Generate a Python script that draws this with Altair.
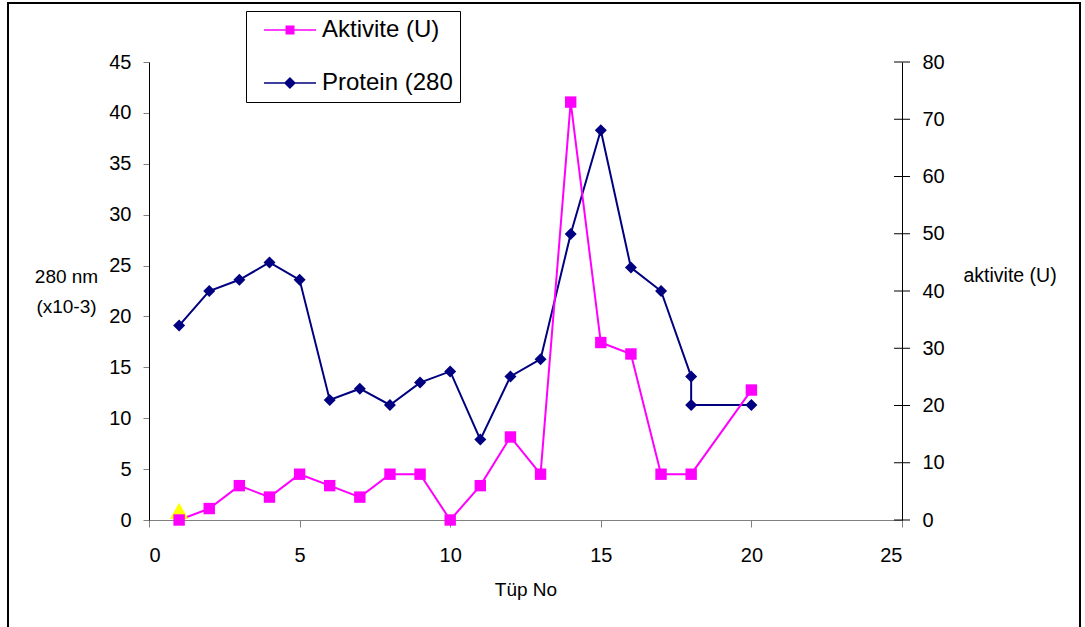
import altair as alt
import pandas as pd

FONT = "Liberation Sans"

# Protein absorbance at 280 nm (x10-3), left axis
protein_tube = [1, 2, 3, 4, 5, 6, 7, 8, 9, 10, 11, 12, 13, 14, 15, 16, 17, 18, 18, 20]
protein_abs = [19.1, 22.5, 23.6, 25.3, 23.6, 11.8, 12.9, 11.3, 13.5, 14.6,
               7.9, 14.1, 15.8, 28.1, 38.3, 24.8, 22.5, 14.1, 11.3, 11.3]

# Enzyme activity (U), right axis
activity_tube = [1, 2, 3, 4, 5, 6, 7, 8, 9, 10, 11, 12, 13, 14, 15, 16, 17, 18, 20]
activity_u = [0, 2, 6, 4, 8, 6, 4, 8, 8, 0, 6, 14.5, 8, 73, 31, 29, 8, 8, 22.7]

# Single reference point at the first tube
ref_tube = [1]
ref_u = [1.6]

# Tick values of the three axes
x_ticks = [0, 5, 10, 15, 20, 25]
left_ticks = [0, 5, 10, 15, 20, 25, 30, 35, 40, 45]
right_ticks = [0, 10, 20, 30, 40, 50, 60, 70, 80]

ACT = "Aktivite (U)"
PROT = "Protein (280 nm)"
series_names = [ACT, PROT]
MAGENTA = "#ff00ff"
NAVY = "#000080"

prot_df = pd.DataFrame({"Tüp No": protein_tube, "val": protein_abs,
                        "idx": range(len(protein_tube))})
act_df = pd.DataFrame({"Tüp No": activity_tube, "val": activity_u,
                       "idx": range(len(activity_tube))})
ref_df = pd.DataFrame({"Tüp No": ref_tube, "val": ref_u})
key_df = pd.DataFrame({"Tüp No": [1, 1], "val": [0, 0], "seri": series_names})
rtick_df = pd.DataFrame({"Tüp No": [x_ticks[-1]] * len(right_ticks), "val": right_ticks})

x_enc = alt.X("Tüp No:Q",
              scale=alt.Scale(domain=[0, 25], nice=False, zero=False),
              axis=alt.Axis(values=x_ticks, title="Tüp No",
                            grid=False, domainColor="#808080", tickColor="#808080",
                            tickSize=7, labelPadding=18, labelFontSize=20,
                            titleFontSize=19, titleFontWeight="normal",
                            titleY=69, titleBaseline="middle"))

# legend symbols: a thin bar (the line) with the series marker in its middle
sym_act = "M-0.08,-0.065H4.25V0.065H-0.08ZM1.71,-0.375H2.46V0.375H1.71Z"
sym_prot = "M-0.08,-0.065H4.25V0.065H-0.08ZM2.08,-0.5L2.58,0L2.08,0.5L1.58,0Z"

legend = alt.Legend(
    orient="none", legendX=97, legendY=-51, title=None, direction="vertical",
    labelFont=FONT, labelFontSize=24, labelColor="black", labelOffset=45,
    symbolSize=576, symbolOpacity=1, symbolStrokeWidth=0, padding=7, rowPadding=29,
    strokeColor="black", fillColor="white",
    labelExpr="replace(datum.label, ' nm)', '')",
)

y_left = alt.Y("val:Q", scale=alt.Scale(domain=[0, 45], nice=False),
               axis=alt.Axis(orient="left", values=left_ticks, grid=False,
                             title=["280 nm", "(x10-3)"], titleAngle=0,
                             titleX=-83, titleY=214, titleAlign="center",
                             titleBaseline="middle", titleLineHeight=30,
                             titleFontSize=19, titleFontWeight="normal",
                             domainColor="black", tickColor="#808080", tickSize=6,
                             labelPadding=12, labelFontSize=20))
y_right = alt.Y("val:Q", scale=alt.Scale(domain=[0, 80], nice=False),
                axis=alt.Axis(orient="right", values=right_ticks, grid=False, ticks=False,
                              title="aktivite (U)", titleAngle=0, titleX=61, titleY=213,
                              titleAlign="left", titleBaseline="middle",
                              titleFontSize=19.5, titleFontWeight="normal",
                              domainColor="black", labelPadding=20, labelFontSize=20))

prot_line = alt.Chart(prot_df).mark_line(strokeWidth=2, color=NAVY).encode(
    x=x_enc, y=y_left, order="idx:Q")
prot_pts = alt.Chart(prot_df).mark_point(shape="diamond", filled=True, size=144,
                                         opacity=1, color=NAVY).encode(x=x_enc, y=y_left)
left = alt.layer(prot_line, prot_pts)

act_line = alt.Chart(act_df).mark_line(strokeWidth=2, color=MAGENTA).encode(
    x=x_enc, y=y_right, order="idx:Q")
act_pts = alt.Chart(act_df).mark_point(shape="square", filled=True, size=130,
                                       opacity=1, color=MAGENTA).encode(x=x_enc, y=y_right)
ref_pt = alt.Chart(ref_df).mark_point(shape="triangle-up", filled=True, size=340,
                                      opacity=1, color="#ffff00").encode(x=x_enc, y=y_right)
# right-axis ticks that cross the axis line
rticks = alt.Chart(rtick_df).mark_tick(orient="horizontal", size=16, thickness=1,
                                       color="black", opacity=1).encode(x=x_enc, y=y_right)
# invisible marks that carry the series key
key = alt.Chart(key_df).mark_point(filled=True, opacity=0).encode(
    x=x_enc, y=y_right,
    color=alt.Color("seri:N", scale=alt.Scale(domain=series_names, range=[MAGENTA, NAVY]),
                    legend=legend),
    shape=alt.Shape("seri:N", scale=alt.Scale(domain=series_names, range=[sym_act, sym_prot]),
                    legend=legend),
)
right = alt.layer(rticks, act_line, ref_pt, act_pts, key)

# outer frame of the figure
frame = alt.Chart(pd.DataFrame({"k": [0]})).mark_rect(
    fill=None, stroke="black", strokeWidth=2).encode(
    x=alt.value(-141), x2=alt.value(931), y=alt.value(-59), y2=alt.value(700))

chart = alt.layer(frame, left, right).resolve_scale(y="independent").properties(
    width=753, height=458,
    autosize=alt.AutoSizeParams(type="none"),
    padding={"left": 149, "top": 62, "right": 183, "bottom": 107},
    background="white",
).configure_view(stroke=None).configure_axis(
    labelFont=FONT, titleFont=FONT, labelColor="black", titleColor="black",
)

chart.save("out.html", embed_options={"renderer": "svg", "actions": False})
